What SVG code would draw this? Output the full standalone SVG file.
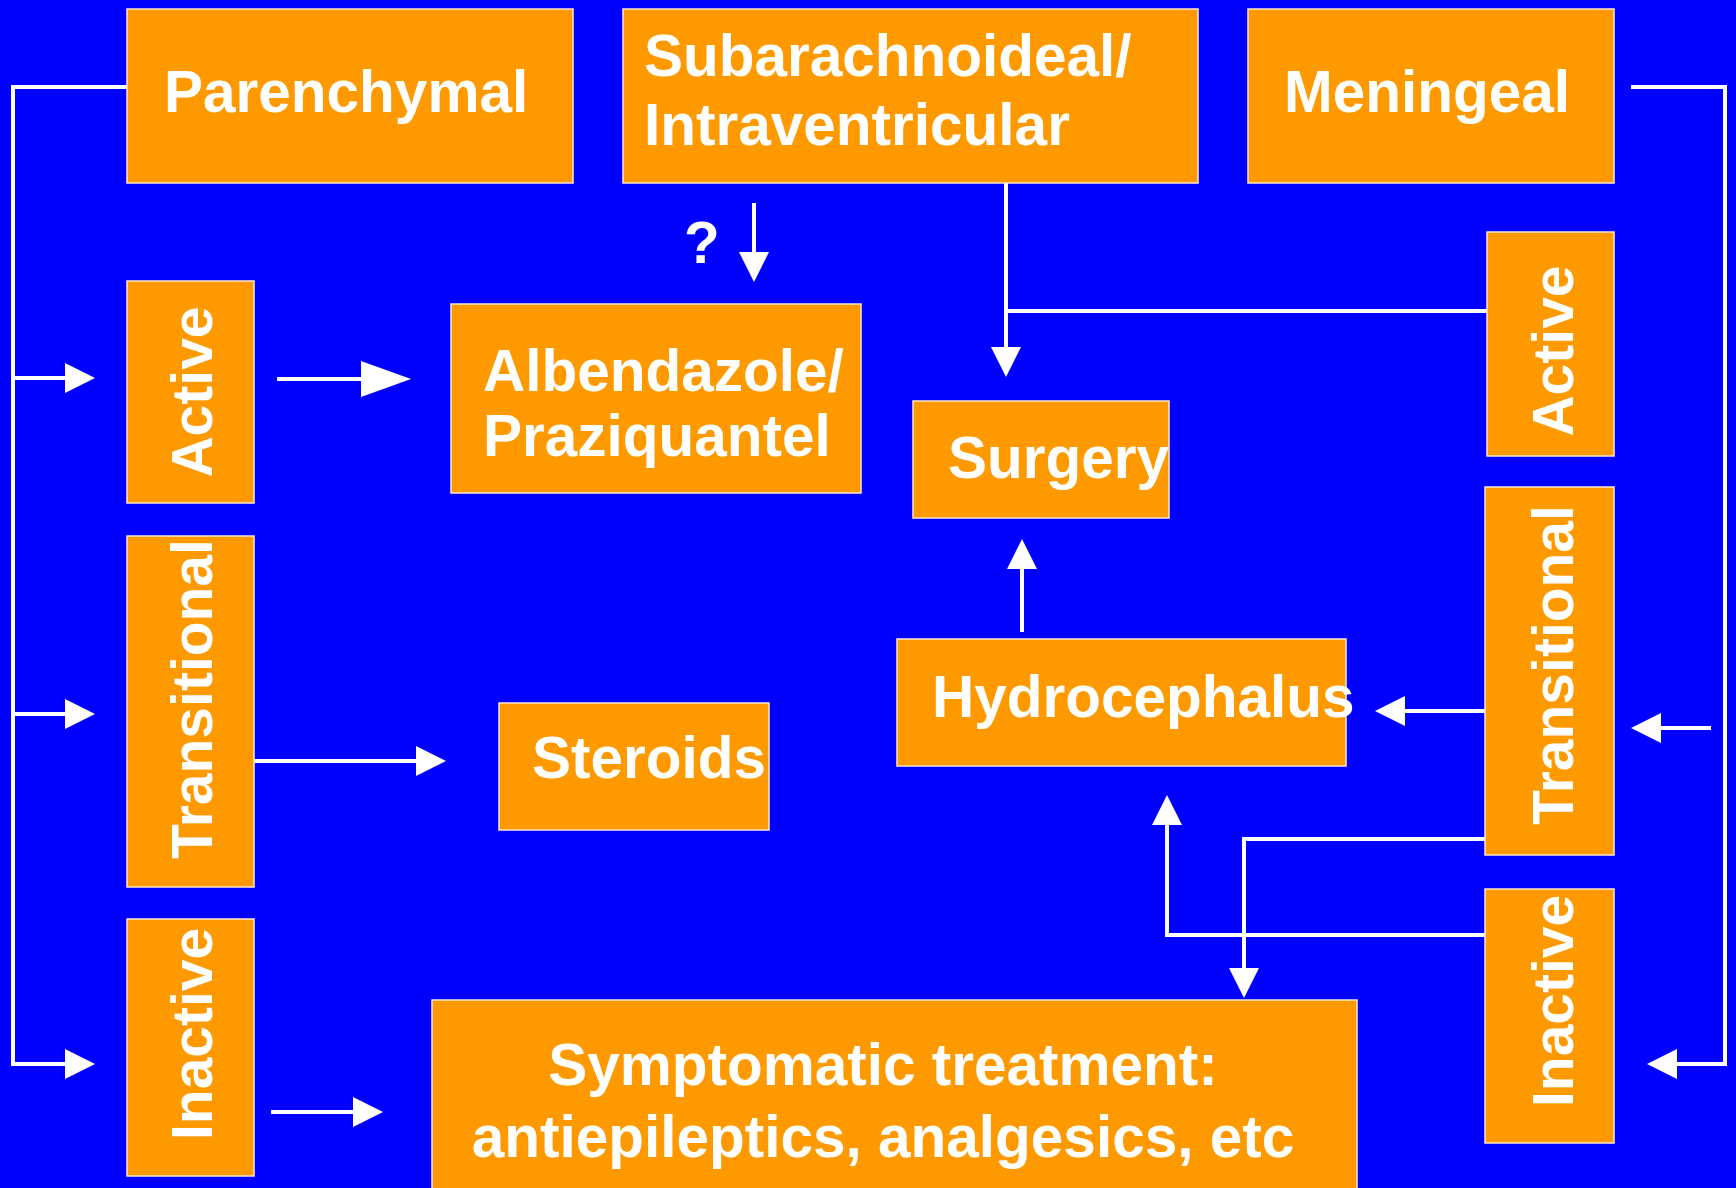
<svg xmlns="http://www.w3.org/2000/svg" width="1736" height="1188" viewBox="0 0 1736 1188">
<defs>
<style>
.box{fill:#FF9900;stroke:#FFE8CC;stroke-width:1.5}
.t{font-family:"Liberation Sans",Arial,sans-serif;font-weight:bold;font-size:58.5px;fill:#FFFFFF}
.v{font-size:57px}
.c{fill:none;stroke:#FFFFFF;stroke-width:4;stroke-linejoin:miter}
.a{marker-end:url(#ah)}
.b{marker-end:url(#big)}
</style>
<marker id="ah" markerUnits="userSpaceOnUse" markerWidth="30" markerHeight="30" refX="5" refY="15" orient="auto" viewBox="0 0 30 30">
<path d="M0,0 L30,15 L0,30 Z" fill="#FFFFFF"/>
</marker>
<marker id="big" markerUnits="userSpaceOnUse" markerWidth="50" markerHeight="36" refX="5" refY="18" orient="auto" viewBox="0 0 50 36">
<path d="M0,0 L50,18 L0,36 Z" fill="#FFFFFF"/>
</marker>
</defs>
<rect x="0" y="0" width="1736" height="1188" fill="#0000FF"/>

<g id="connectors">
<path class="c a" d="M127,87 H13 V1064 H70"/>
<path class="c a" d="M13,378 H70"/>
<path class="c a" d="M13,714 H70"/>
<path class="c b" d="M277,379 H366"/>
<path class="c a" d="M254,761 H421"/>
<path class="c a" d="M271,1112 H358"/>
<path class="c a" d="M754,203 V257"/>
<path class="c a" d="M1006,183 V352"/>
<path class="c" d="M1487,311 H1006"/>
<path class="c a" d="M1022,632 V564"/>
<path class="c a" d="M1485,711 H1400"/>
<path class="c a" d="M1631,87 H1725 V1064 H1672"/>
<path class="c a" d="M1711,728 H1656"/>
<path class="c a" d="M1485,839 H1244 V973"/>
<path class="c a" d="M1485,935 H1167 V820"/>
</g>

<g id="parenchymal"><rect class="box" x="127" y="9" width="446" height="174"/><text class="t" x="164" y="112">Parenchymal</text></g>
<g id="subarachnoideal"><rect class="box" x="623" y="9" width="575" height="174"/><text class="t" x="644" y="76">Subarachnoideal/</text><text class="t" x="644" y="145">Intraventricular</text></g>
<g id="meningeal"><rect class="box" x="1248" y="9" width="366" height="174"/><text class="t" x="1284" y="112">Meningeal</text></g>

<g id="active-left"><rect class="box" x="127" y="281" width="127" height="222"/><text class="t v" transform="translate(212,392) rotate(-90)" text-anchor="middle">Active</text></g>
<g id="transitional-left"><rect class="box" x="127" y="536" width="127" height="351"/><text class="t v" transform="translate(212,859) rotate(-90)">Transitional</text></g>
<g id="inactive-left"><rect class="box" x="127" y="919" width="127" height="257"/><text class="t v" transform="translate(212,1140) rotate(-90)">Inactive</text></g>

<g id="question"><text class="t" x="684" y="263">?</text></g>

<g id="albendazole"><rect class="box" x="451" y="304" width="410" height="189"/><text class="t" x="483" y="391">Albendazole/</text><text class="t" x="483" y="456">Praziquantel</text></g>
<g id="surgery"><rect class="box" x="913" y="401" width="256" height="117"/><text class="t" x="948" y="478">Surgery</text></g>
<g id="hydrocephalus"><rect class="box" x="897" y="639" width="449" height="127"/><text class="t" x="932" y="717">Hydrocephalus</text></g>
<g id="steroids"><rect class="box" x="499" y="703" width="270" height="127"/><text class="t" x="532" y="778">Steroids</text></g>
<g id="symptomatic"><rect class="box" x="432" y="1000" width="925" height="196"/><text class="t" x="883" y="1085" text-anchor="middle">Symptomatic treatment:</text><text class="t" x="883" y="1157" text-anchor="middle">antiepileptics, analgesics, etc</text></g>

<g id="active-right"><rect class="box" x="1487" y="232" width="127" height="224"/><text class="t v" transform="translate(1573,351) rotate(-90)" text-anchor="middle">Active</text></g>
<g id="transitional-right"><rect class="box" x="1485" y="487" width="129" height="368"/><text class="t v" transform="translate(1573,825) rotate(-90)">Transitional</text></g>
<g id="inactive-right"><rect class="box" x="1485" y="889" width="129" height="254"/><text class="t v" transform="translate(1573,1107) rotate(-90)">Inactive</text></g>
</svg>
